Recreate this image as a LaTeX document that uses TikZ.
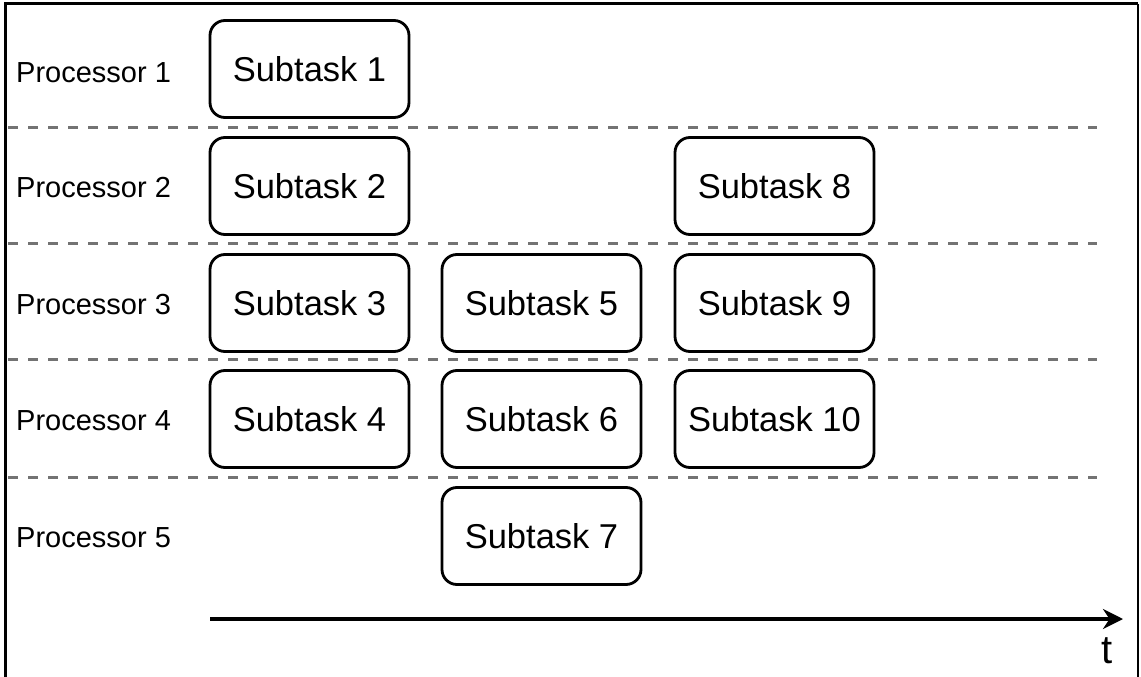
\documentclass[tikz,border=0pt]{standalone}
\usepackage{fontspec}
\setmainfont{Liberation Sans}
\usetikzlibrary{arrows.meta,positioning}

\begin{document}
\begin{tikzpicture}[
  x=1pt, y=-1pt,
  taskbox/.style={draw, line width=2.8pt, rounded corners=15pt, minimum width=199pt, minimum height=97pt, font=\fontsize{34.5}{40}\selectfont},
  proclabel/.style={anchor=west, inner sep=0pt, font=\fontsize{29}{34}\selectfont},
  lanesep/.style={draw=black!55, line width=3pt, dash pattern=on 10pt off 10pt},
  frameline/.style={line width=3pt},
  timearrow/.style={-{Stealth[length=20pt,width=20pt]}, line width=3.2pt}
]
\useasboundingbox (0,0) rectangle (1141,677);

% frame
\draw[frameline] (5,677) -- (5,4) -- (1138,4);
\draw[line width=1.5pt] (1138,4) -- (1138,677);

% processor lanes
\draw[lanesep] (8,127) -- (1097,127);
\draw[lanesep] (8,243) -- (1097,243);
\draw[lanesep] (8,359) -- (1097,359);
\draw[lanesep] (8,477) -- (1097,477);

\node[proclabel] (p1) at (16,73) {Processor 1};
\node[proclabel] (p2) at (16,188) {Processor 2};
\node[proclabel] (p3) at (16,305) {Processor 3};
\node[proclabel] (p4) at (16,421) {Processor 4};
\node[proclabel] (p5) at (16,538) {Processor 5};

% subtasks
\node[taskbox] (s1) at (309.5,69) {Subtask 1};
\node[taskbox] (s2) at (309.5,186) {Subtask 2};
\node[taskbox] (s3) at (309.5,303) {Subtask 3};
\node[taskbox] (s4) at (309.5,419) {Subtask 4};
\node[taskbox] (s5) at (541.5,303) {Subtask 5};
\node[taskbox] (s6) at (541.5,419) {Subtask 6};
\node[taskbox] (s7) at (541.5,536) {Subtask 7};
\node[taskbox] (s8) at (774.5,186) {Subtask 8};
\node[taskbox] (s9) at (774.5,303) {Subtask 9};
\node[taskbox] (s10) at (774.5,419) {Subtask 10};

% time axis
\coordinate (t0) at (210,619);
\coordinate (t1) at (1123,619);
\draw[timearrow] (t0) -- (t1);
\node[font=\fontsize{40}{44}\selectfont, inner sep=0pt] (tlabel) at (1107,651) {t};
\end{tikzpicture}
\end{document}
